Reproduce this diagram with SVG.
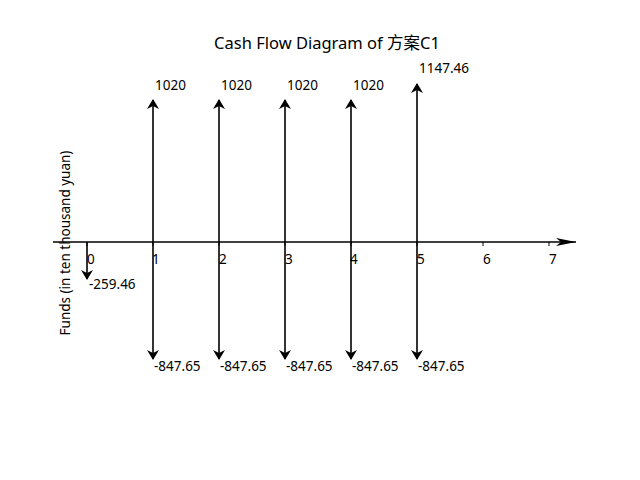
<svg xmlns="http://www.w3.org/2000/svg" width="640" height="480" viewBox="0 0 640 480">
<defs>
<style>
text{font-family:"Noto Sans","Noto Sans CJK SC",sans-serif;font-size:13.5px;fill:#000}
.t{font-size:16.5px}
.v{stroke:#000;stroke-width:1.6;fill:none}
.tk{stroke:#000;stroke-width:1}
</style>
<marker id="ah" viewBox="0 0 10 12" refX="9" refY="6" markerWidth="10" markerHeight="12" markerUnits="userSpaceOnUse" orient="auto">
<path d="M0,0 L10,6 L0,12 L3,6 Z" fill="#000"/>
</marker>
</defs>
<rect width="640" height="480" fill="#fff"/>
<text class="t" x="327" y="49" text-anchor="middle">Cash Flow Diagram of 方案C1</text>
<text x="70" y="243" text-anchor="middle" transform="rotate(-90 70 243)">Funds (in ten thousand yuan)</text>
<g id="connectors">
<line x1="53" y1="242" x2="576" y2="242" stroke="#000" stroke-width="1.6"/>
<path d="M576,242 L556,238 L561,242 L556,246 Z" fill="#000"/>
<g class="tk">
<line x1="87" y1="242" x2="87" y2="246"/><line x1="153" y1="242" x2="153" y2="246"/>
<line x1="219" y1="242" x2="219" y2="246"/><line x1="285" y1="242" x2="285" y2="246"/>
<line x1="351" y1="242" x2="351" y2="246"/><line x1="417" y1="242" x2="417" y2="246"/>
<line x1="483" y1="242" x2="483" y2="246"/><line x1="549" y1="242" x2="549" y2="246"/>
</g>
<line class="v" x1="87" y1="242" x2="87" y2="279" marker-end="url(#ah)"/>
<line class="v" x1="153" y1="242" x2="153" y2="100" marker-end="url(#ah)"/>
<line class="v" x1="219" y1="242" x2="219" y2="100" marker-end="url(#ah)"/>
<line class="v" x1="285" y1="242" x2="285" y2="100" marker-end="url(#ah)"/>
<line class="v" x1="351" y1="242" x2="351" y2="100" marker-end="url(#ah)"/>
<line class="v" x1="417" y1="242" x2="417" y2="84" marker-end="url(#ah)"/>
<line class="v" x1="153" y1="242" x2="153" y2="359" marker-end="url(#ah)"/>
<line class="v" x1="219" y1="242" x2="219" y2="359" marker-end="url(#ah)"/>
<line class="v" x1="285" y1="242" x2="285" y2="359" marker-end="url(#ah)"/>
<line class="v" x1="351" y1="242" x2="351" y2="359" marker-end="url(#ah)"/>
<line class="v" x1="417" y1="242" x2="417" y2="359" marker-end="url(#ah)"/>
</g>
<g id="ticklabels">
<text x="87" y="264">0</text><text x="152" y="264">1</text><text x="219" y="264">2</text>
<text x="285" y="264">3</text><text x="350" y="264">4</text><text x="417" y="264">5</text>
<text x="483" y="264">6</text><text x="549" y="264">7</text>
</g>
<g id="values">
<text x="89" y="289">-259.46</text>
<text x="155" y="90">1020</text><text x="221" y="90">1020</text><text x="287" y="90">1020</text><text x="353" y="90">1020</text>
<text x="419" y="73">1147.46</text>
<text x="154" y="371">-847.65</text><text x="220" y="371">-847.65</text><text x="286" y="371">-847.65</text><text x="352" y="371">-847.65</text><text x="418" y="371">-847.65</text>
</g>
</svg>
